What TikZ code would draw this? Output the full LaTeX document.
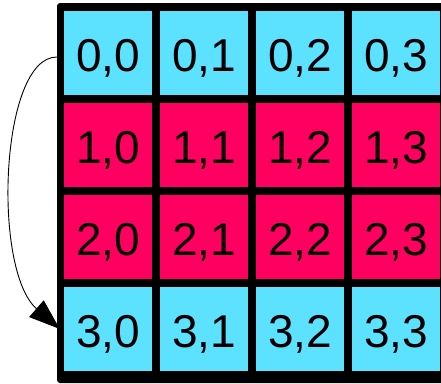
\documentclass[tikz,border=0pt]{standalone}
\usepackage{fontspec}
\setmainfont{Liberation Sans}
\usetikzlibrary{arrows.meta}
\definecolor{cellcyan}{HTML}{5CE1FF}
\definecolor{cellred}{HTML}{FF0060}
\tikzset{
  cell/.style={minimum width=88pt, minimum height=84pt, inner sep=0pt, text height=37pt, text depth=0pt, font=\fontsize{46}{46}\selectfont, text=black},
  cyancell/.style={cell, fill=cellcyan},
  redcell/.style={cell, fill=cellred},
}
\begin{document}
\begin{tikzpicture}[x=1pt,y=-1pt]
\useasboundingbox (0,0) rectangle (441,383);
\begin{scope}
\clip (0,0) rectangle (441,383);
\fill[black, rounded corners=3pt] (57,3) rectangle (449,383);
\foreach \i in {0,...,3}{
  \foreach \j in {0,...,3}{
    \pgfmathsetmacro{\cx}{64+96*\j+44}
    \pgfmathsetmacro{\cy}{11+92*\i+42}
    \ifnum\i=1 \def\st{redcell}\else\ifnum\i=2 \def\st{redcell}\else\def\st{cyancell}\fi\fi
    \node[\st] (c\i\j) at (\cx,\cy) {\i,\j};
  }
}
\end{scope}
\draw[line width=0.9pt, -{Triangle[length=31pt,width=22pt]}]
  ([xshift=-7pt,yshift=-4pt]c00.west) .. controls (0,57) and (-8,270) .. ([xshift=-4pt]c30.west);
\end{tikzpicture}
\end{document}
